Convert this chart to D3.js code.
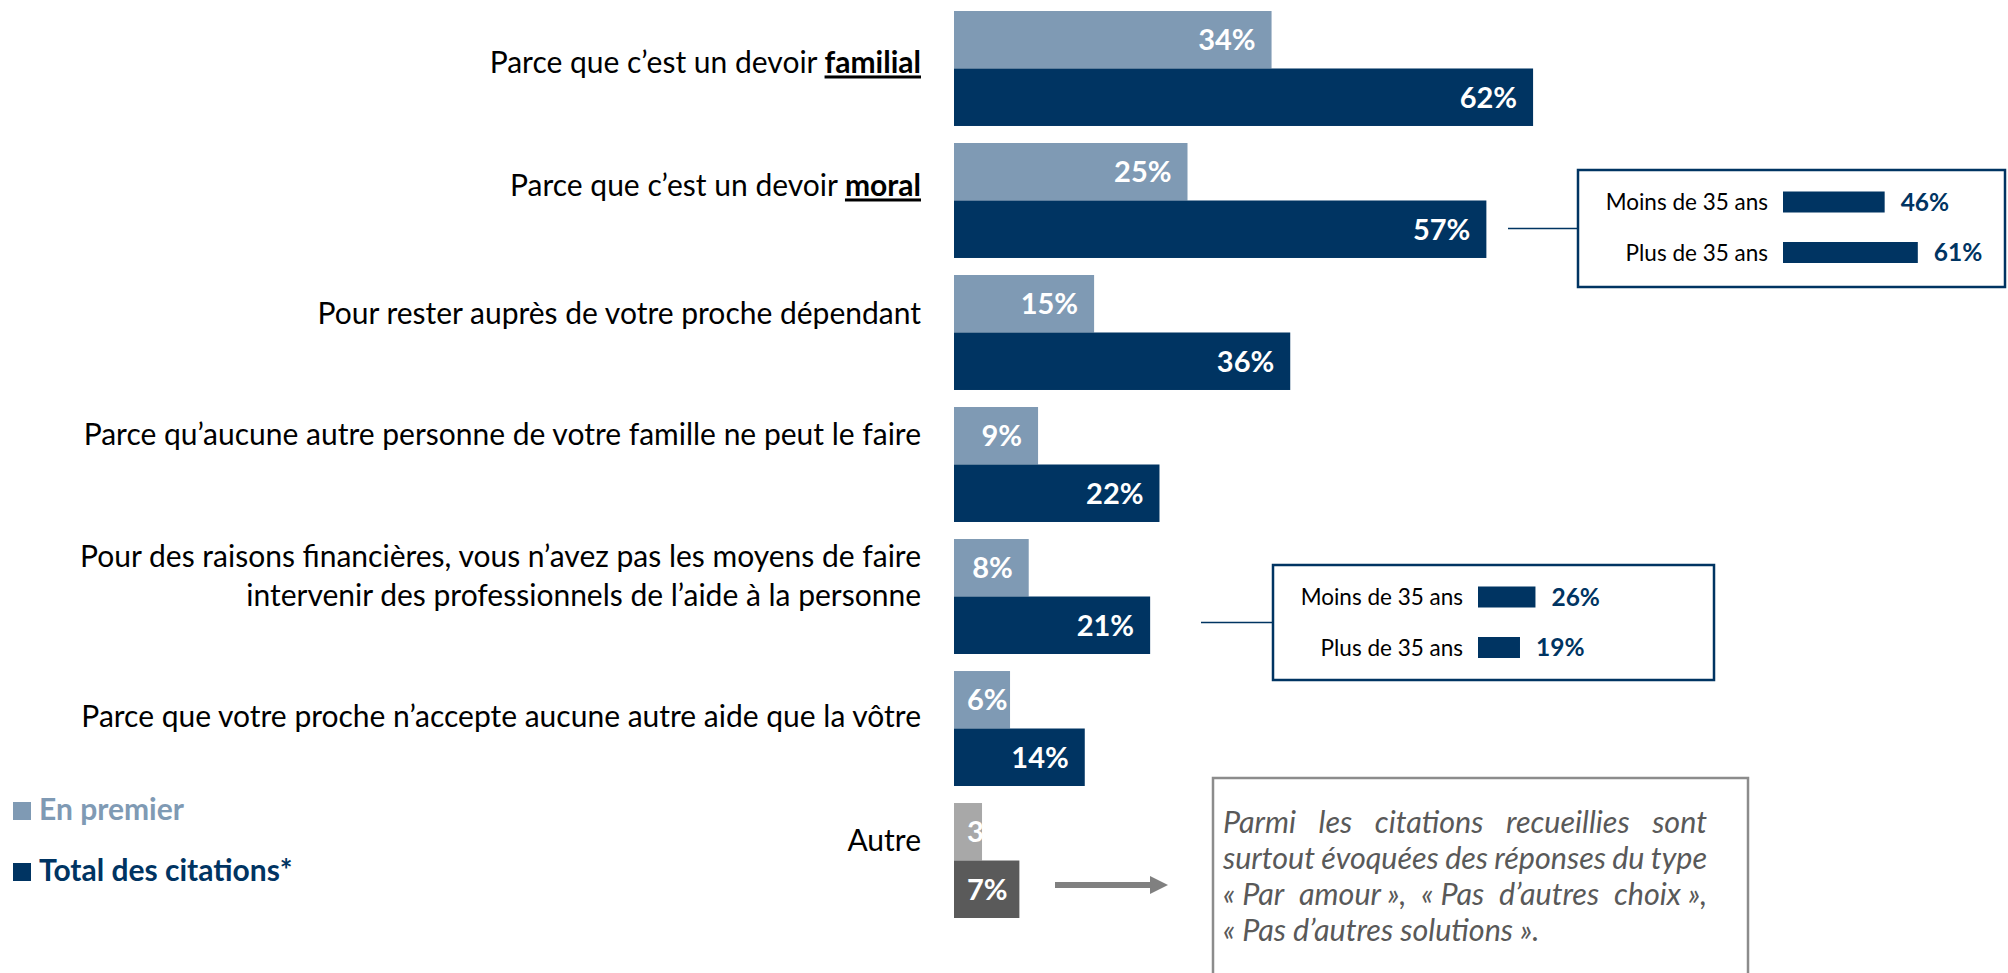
<!DOCTYPE html>
<html>
<head>
<meta charset="utf-8">
<script src="https://cdn.jsdelivr.net/npm/d3@7"></script>
<style>
  body { margin: 0; background: #fff; }
  svg text { font-family: Lato, "Open Sans", sans-serif; }
</style>
</head>
<body>
<svg id="chart" width="2008" height="973"></svg>
<script>
// categories (__word__ = bold + underlined, \n = line break)
const categories = [
    "Parce que c’est un devoir __familial__",
    "Parce que c’est un devoir __moral__",
    "Pour rester auprès de votre proche dépendant",
    "Parce qu’aucune autre personne de votre famille ne peut le faire",
    "Pour des raisons financières, vous n’avez pas les moyens de faire\nintervenir des professionnels de l’aide à la personne",
    "Parce que votre proche n’accepte aucune autre aide que la vôtre",
    "Autre"
];
const series = ["En premier", "Total des citations*"];
const enPremier = [34, 25, 15, 9, 8, 6, 3];
const totalCitations = [62, 57, 36, 22, 21, 14, 7];

// age breakdowns shown in the side boxes
const ageGroups = ["Moins de 35 ans", "Plus de 35 ans"];
const moralByAge = [46, 61];
const financesByAge = [26, 19];

const noteLines = [
    "Parmi les citations recueillies sont",
    "surtout évoquées des réponses du type",
    "«\u00a0Par amour\u00a0», «\u00a0Pas d’autres choix\u00a0»,",
    "«\u00a0Pas d’autres solutions\u00a0»."
];

// small vertical nudges of the category text boxes (as placed in the slide)
const labelShift = [9, 0, -4, -16, -6, 2, -6];

const svg = d3.select("#chart");

const colors = { "En premier": "#7f9ab4", "Total des citations*": "#003462" };
const otherColors = { "En premier": "#a8a8a8", "Total des citations*": "#5a5a5a" };

let x = d3.scaleLinear()
    .domain([0, 100])
    .range([954, 954 + 934]);

let y = d3.scaleBand()
    .domain(categories)
    .range([11, 918])
    .paddingInner(0.129)
    .paddingOuter(0);

let ySub = d3.scaleBand()
    .domain(series)
    .range([0, y.bandwidth()]);

const rows = categories.map((c, i) => ({
    cat: c,
    values: [
        { s: series[0], v: enPremier[i], cat: c },
        { s: series[1], v: totalCitations[i], cat: c }
    ]
}));

// BARS
let groups = svg.selectAll("g.grp")
    .data(rows)
    .join("g")
    .attr("class", "grp")
    .attr("transform", d => `translate(0, ${y(d.cat)})`);

groups.selectAll("rect")
    .data(d => d.values)
    .join("rect")
    .attr("x", x(0))
    .attr("y", d => ySub(d.s))
    .attr("width", d => x(d.v) - x(0))
    .attr("height", ySub.bandwidth())
    .attr("fill", d => d.cat === "Autre" ? otherColors[d.s] : colors[d.s]);

// value labels, inside end (pushed right when bar is too short)
groups.selectAll("text.val")
    .data(d => d.values)
    .join("text")
    .attr("class", "val")
    .attr("y", d => ySub(d.s) + ySub.bandwidth() / 2)
    .attr("dy", "0.36em")
    .attr("text-anchor", "end")
    .attr("fill", "#fff")
    .attr("font-weight", 700)
    .attr("font-size", 29)
    .text(d => d.v + "%")
    .attr("x", function(d) {
        let w = this.getComputedTextLength();
        return Math.max(x(d.v) - 16, x(0) + 13 + w);
    });

// CATEGORY LABELS
let labelGroup = svg.append("g");
categories.forEach((c, i) => {
    let lines = c.split("\n");
    let base = y(c) + ySub.bandwidth() - 4 + labelShift[i];
    lines.forEach((line, j) => {
        let t = labelGroup.append("text")
            .attr("x", 921)
            .attr("y", base + (j - (lines.length - 1) / 2) * 39)
            .attr("text-anchor", "end")
            .attr("font-size", 30)
            .attr("fill", "#000");
        line.split(/(__[^_]+__)/).filter(s => s).forEach(seg => {
            let em = seg.startsWith("__");
            t.append("tspan")
                .text(em ? seg.slice(2, -2) : seg)
                .attr("font-weight", em ? 700 : null)
                .attr("text-decoration", em ? "underline" : null);
        });
    });
});

// LEGEND
series.forEach((s, i) => {
    svg.append("rect")
        .attr("x", 13)
        .attr("y", 802 + i * 61)
        .attr("width", 18)
        .attr("height", 18)
        .attr("fill", colors[s]);
    svg.append("text")
        .attr("x", 39)
        .attr("y", 820 + i * 61)
        .attr("font-size", 30)
        .attr("font-weight", 700)
        .attr("fill", colors[s])
        .text(s);
});

// AGE BOXES
let xInset = d3.scaleLinear()
    .domain([0, 100])
    .range([0, 221]);

function ageBox(box, values, lineStart) {
    let cy = box.y + box.h / 2;
    svg.append("line")
        .attr("x1", lineStart)
        .attr("x2", box.x)
        .attr("y1", cy)
        .attr("y2", cy)
        .style("stroke", colors[series[1]])
        .style("stroke-width", 1.3);
    svg.append("rect")
        .attr("x", box.x)
        .attr("y", box.y)
        .attr("width", box.w)
        .attr("height", box.h)
        .style("fill", "none")
        .style("stroke", colors[series[1]])
        .style("stroke-width", 2.5);
    ageGroups.forEach((g, i) => {
        let ry = box.y + 32 + i * 50.5;
        svg.append("text")
            .attr("x", box.x + 190)
            .attr("y", ry)
            .attr("dy", "0.36em")
            .attr("text-anchor", "end")
            .attr("font-size", 22.5)
            .attr("fill", "#000")
            .text(g);
        svg.append("rect")
            .attr("x", box.x + 205)
            .attr("y", ry - 10.5)
            .attr("width", xInset(values[i]))
            .attr("height", 21)
            .attr("fill", colors[series[1]]);
        svg.append("text")
            .attr("x", box.x + 205 + xInset(values[i]) + 16)
            .attr("y", ry)
            .attr("dy", "0.36em")
            .attr("font-size", 24.5)
            .attr("font-weight", 700)
            .attr("fill", colors[series[1]])
            .text(values[i] + "%");
    });
}
ageBox({ x: 1578, y: 170, w: 427, h: 117 }, moralByAge, 1508);
ageBox({ x: 1273, y: 565, w: 441, h: 115 }, financesByAge, 1201);

// ARROW to the note
svg.append("line")
    .attr("x1", 1055)
    .attr("x2", 1151)
    .attr("y1", 885)
    .attr("y2", 885)
    .style("stroke", "#808080")
    .style("stroke-width", 6);
svg.append("path")
    .attr("d", "M1150,876 L1168,885 L1150,894 Z")
    .attr("fill", "#808080");

// NOTE BOX (justified italic text)
svg.append("rect")
    .attr("x", 1213)
    .attr("y", 778)
    .attr("width", 535)
    .attr("height", 260)
    .style("fill", "none")
    .style("stroke", "#8c8c8c")
    .style("stroke-width", 2.5);

let noteGroup = svg.append("g")
    .attr("font-size", 30.5)
    .attr("font-style", "italic")
    .attr("fill", "#595959");
const noteLeft = 1223, noteWidth = 484;
noteLines.forEach((line, i) => {
    let ly = 833 + i * 36;
    if (i === noteLines.length - 1) {
        noteGroup.append("text").attr("x", noteLeft).attr("y", ly).text(line);
        return;
    }
    let words = line.split(" ");
    let nodes = words.map(w => noteGroup.append("text").attr("y", ly).text(w));
    let widths = nodes.map(n => n.node().getComputedTextLength());
    let gap = (noteWidth - d3.sum(widths)) / (words.length - 1);
    let cx = noteLeft;
    nodes.forEach((n, k) => {
        n.attr("x", cx);
        cx += widths[k] + gap;
    });
});
</script>
</body>
</html>
